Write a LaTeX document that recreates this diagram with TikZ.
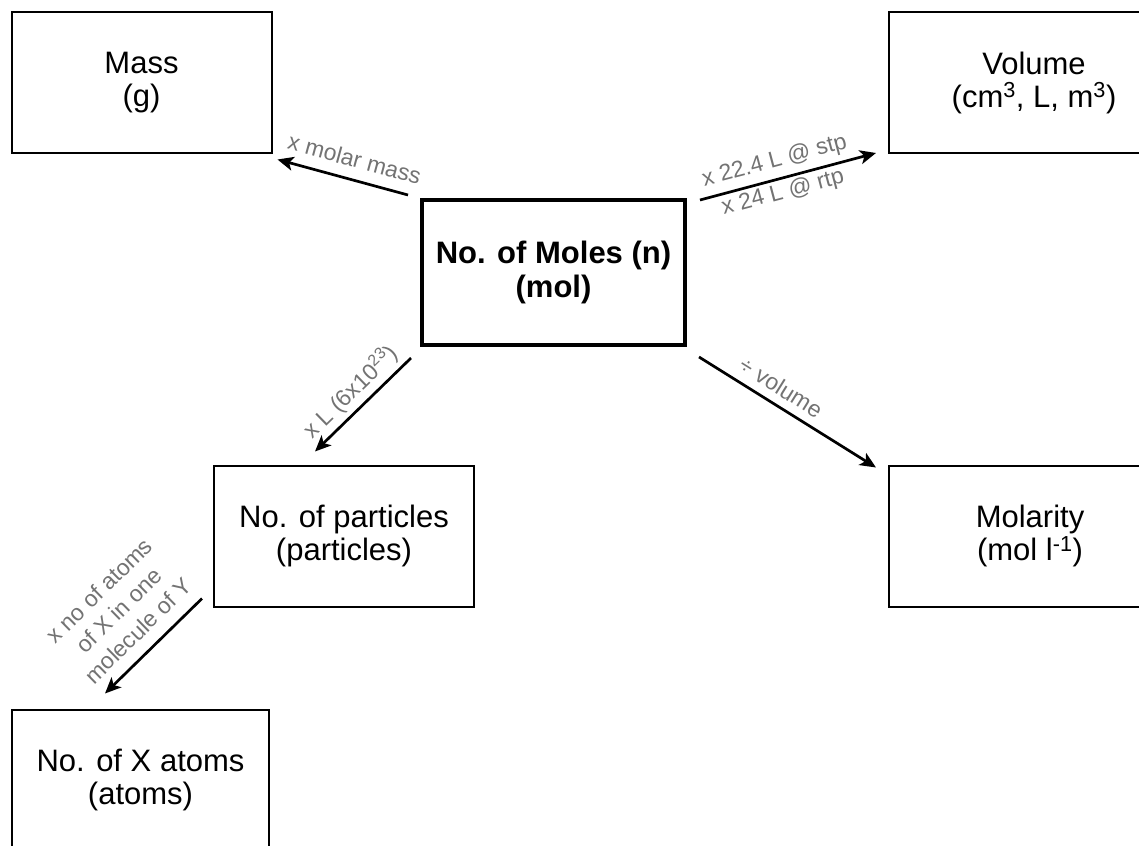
\documentclass[tikz,border=0pt]{standalone}
\usepackage{fontspec}
\setmainfont{Liberation Sans}
\usetikzlibrary{calc}
\usetikzlibrary{arrows.meta}
\definecolor{factorgrey}{RGB}{115,115,115}
\tikzstyle{quantity}=[draw, line width=2pt, minimum width=260pt, minimum height=141pt, align=center, font=\fontsize{31}{33}\selectfont]
\tikzstyle{central quantity}=[quantity, line width=4pt, minimum width=263pt, minimum height=145pt, font=\fontsize{31}{34}\selectfont\bfseries]
\tikzstyle{conversion}=[line width=2.7pt, -{Stealth[length=16pt, width=14pt, inset=4pt]}]
\tikzstyle{factor}=[text=factorgrey, font=\fontsize{23}{28}\selectfont, sloped, align=center]

\begin{document}
\begin{tikzpicture}[x=1pt, y=-1pt]
      \useasboundingbox (0, 0) rectangle (1139, 845);
      \clip (0, 0) rectangle (1139, 845);

      \node[quantity] (mass) at (141.5, 83) {Mass\\(g)};
      \node[quantity, minimum width=290pt] (volume) at (1034, 82.5) {Volume\\(cm\textsuperscript{3}, L, m\textsuperscript{3})};
      \node[central quantity] (moles) at (553.5, 272.5) {No. of Moles (n)\\(mol)};
      \node[quantity] (particles) at (344, 536) {No. of particles\\(particles)};
      \node[quantity, minimum width=282pt] (molarity) at (1030, 536) {Molarity\\(mol l\textsuperscript{-1})};
      \node[quantity, minimum width=257pt] (atoms) at (140.5, 780) {No. of X atoms\\(atoms)};

      \draw[conversion] ($(moles.north west)+(-12, -3)$) to node[factor, above, inner sep=11pt, pos=0.45] {x molar mass} ($(mass.south east)+(5, 5)$);
      \draw[conversion] ($(moles.north east)+(13, 2)$) to node[factor, above, inner sep=6pt, pos=0.45] {x 22.4 L @ stp} node[factor, below, inner sep=2.5pt, pos=0.45] {x 24 L @ rtp} ($(volume.south west)+(-12, -1)$);
      \draw[conversion] ($(moles.south west)+(-9, 11)$) to node[factor, above, inner sep=4pt] {x L (6x10\textsuperscript{23})} ($(particles.north)+(-29, -13)$);
      \draw[conversion] ($(moles.south east)+(12, 10)$) to node[factor, above, inner sep=8pt, pos=0.41] {÷ volume} ($(molarity.north west)+(-12, 3)$);
      \draw[conversion] ($(particles.south west)+(-11, -9)$) to node[factor, above, inner sep=12pt] {x no of atoms\\of X in one\\molecule of Y} ($(atoms.north)+(-35.5, -15)$);
    \end{tikzpicture}
\end{document}
